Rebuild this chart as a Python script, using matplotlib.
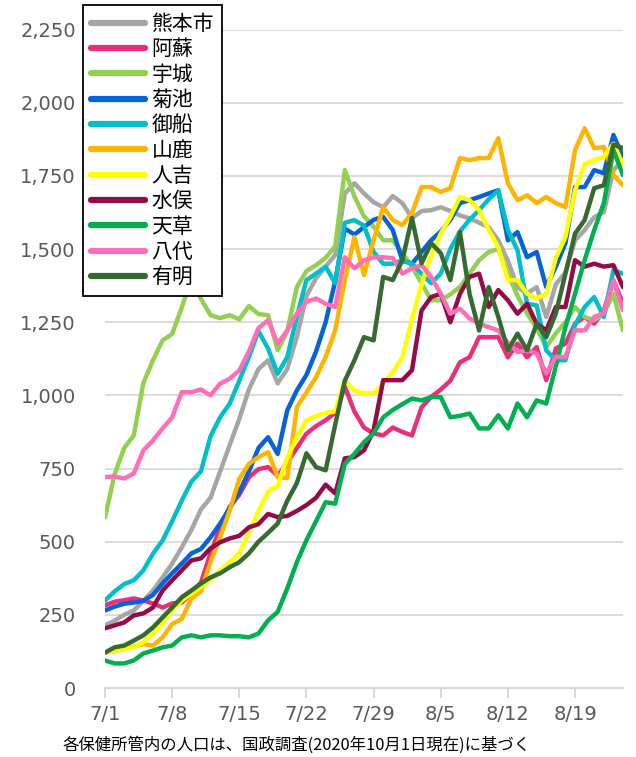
import numpy as np
import matplotlib
matplotlib.use('Agg')
import matplotlib.pyplot as plt
import matplotlib.ticker as ticker

plt.rcParams['font.family'] = ['DejaVu Sans', 'Noto Sans CJK JP']

days = np.arange(55)
tick_pos = [0, 7, 14, 21, 28, 35, 42, 49]
tick_labels = ['7/1', '7/8', '7/15', '7/22', '7/29', '8/5', '8/12', '8/19']

names = ['熊本市', '阿蘇', '宇城', '菊池', '御船', '山鹿', '人吉', '水俣', '天草', '八代', '有明']
colors = ['#A6A6A6', '#E8307A', '#92D050', '#0563D6', '#00BFC8', '#FFB400',
          '#FFFF00', '#940C47', '#00B050', '#FF6EB9', '#356A30']

kumamoto = [214, 230, 250, 265, 298, 333, 378, 425, 480, 540,
            610, 650, 740, 830, 920, 1020, 1090, 1120, 1041, 1090,
            1200, 1340, 1400, 1440, 1480, 1690, 1725, 1690, 1660, 1643,
            1681, 1657, 1606, 1630, 1633, 1643, 1630, 1615, 1605, 1590,
            1575, 1530, 1460, 1370, 1348, 1370, 1268, 1380, 1420, 1530,
            1565, 1609, 1626, 1770, 1804]
aso = [282, 295, 300, 306, 299, 289, 275, 289, 292, 323,
       360, 460, 549, 620, 660, 720, 748, 755, 725, 770,
       820, 869, 895, 915, 940, 1030, 945, 890, 870, 863,
       890, 875, 863, 959, 995, 1020, 1050, 1113, 1130, 1199,
       1199, 1199, 1130, 1177, 1130, 1165, 1052, 1160, 1177, 1245,
       1268, 1245, 1290, 1393, 1314]
uki = [583, 730, 820, 863, 1042, 1120, 1188, 1210, 1300, 1400,
       1330, 1274, 1264, 1274, 1260, 1305, 1278, 1274, 1154, 1220,
       1370, 1425, 1445, 1470, 1510, 1770, 1680, 1612, 1576, 1530,
       1530, 1486, 1440, 1383, 1325, 1325, 1345, 1370, 1416, 1462,
       1490, 1500, 1416, 1340, 1280, 1230, 1165, 1212, 1250, 1302,
       1268, 1257, 1280, 1347, 1222]
kikuchi = [265, 278, 288, 292, 298, 318, 357, 392, 425, 460,
           475, 515, 562, 614, 670, 740, 820, 857, 800, 949,
           1017, 1070, 1150, 1250, 1390, 1570, 1550, 1575, 1600, 1610,
           1565, 1460, 1450, 1490, 1530, 1560, 1600, 1657, 1667, 1678,
           1690, 1701, 1530, 1558, 1472, 1490, 1370, 1440, 1520, 1712,
           1712, 1770, 1759, 1890, 1815]
mifune = [299, 330, 355, 368, 402, 459, 504, 570, 640, 705,
          740, 860, 925, 972, 1050, 1131, 1220, 1160, 1074, 1131,
          1268, 1394, 1416, 1440, 1383, 1590, 1599, 1580, 1490, 1450,
          1450, 1462, 1450, 1416, 1383, 1416, 1500, 1560, 1600, 1633,
          1670, 1700, 1565, 1496, 1313, 1308, 1154, 1120, 1120, 1240,
          1302, 1336, 1268, 1428, 1416]
yamaga = [121, 126, 135, 142, 150, 145, 173, 219, 236, 305,
          330, 430, 515, 607, 715, 766, 789, 806, 720, 717,
          960, 1010, 1062, 1131, 1222, 1394, 1541, 1411, 1530, 1643,
          1599, 1582, 1623, 1712, 1712, 1695, 1708, 1811, 1804, 1811,
          1811, 1879, 1725, 1667, 1684, 1657, 1678, 1657, 1643, 1838,
          1913, 1845, 1849, 1753, 1718]
hitoyoshi = [121, 127, 133, 140, 156, 186, 221, 265, 299, 323,
             345, 370, 402, 430, 460, 530, 605, 672, 690, 789,
             857, 915, 930, 940, 945, 1052, 1015, 1008, 1006, 1040,
             1080, 1130, 1260, 1380, 1480, 1553, 1610, 1678, 1667, 1633,
             1565, 1507, 1394, 1394, 1348, 1331, 1347, 1470, 1541, 1700,
             1790, 1804, 1815, 1860, 1790]
minamata = [204, 214, 224, 248, 255, 275, 333, 368, 402, 436,
            443, 477, 498, 511, 520, 549, 560, 595, 584, 588,
            605, 625, 650, 695, 665, 785, 789, 812, 880, 1052,
            1052, 1052, 1086, 1290, 1336, 1347, 1250, 1347, 1405, 1416,
            1302, 1360, 1325, 1279, 1313, 1245, 1222, 1302, 1302, 1462,
            1440, 1450, 1440, 1445, 1370]
amakusa = [94, 84, 84, 94, 118, 128, 139, 145, 173, 180,
           173, 180, 180, 177, 177, 173, 186, 231, 260, 340,
           430, 505, 570, 635, 630, 766, 800, 840, 870, 925,
           950, 970, 989, 983, 994, 994, 925, 930, 938, 887,
           887, 932, 887, 972, 925, 983, 972, 1100, 1233, 1347,
           1462, 1565, 1657, 1838, 1753]
yatsushiro = [721, 723, 716, 733, 812, 846, 887, 925, 1011, 1011,
              1020, 1000, 1040, 1057, 1085, 1150, 1230, 1257, 1177, 1222,
              1280, 1320, 1331, 1313, 1302, 1472, 1434, 1462, 1472, 1472,
              1469, 1416, 1434, 1445, 1405, 1347, 1279, 1296, 1263, 1245,
              1233, 1222, 1180, 1148, 1154, 1143, 1075, 1131, 1131, 1222,
              1222, 1268, 1280, 1393, 1291]
ariake = [121, 139, 145, 162, 180, 207, 241, 275, 310, 333,
          357, 378, 392, 413, 430, 460, 500, 530, 562, 640,
          700, 802, 755, 744, 900, 1050, 1120, 1199, 1188, 1405,
          1394, 1462, 1606, 1452, 1520, 1486, 1394, 1558, 1347, 1222,
          1370, 1268, 1154, 1211, 1154, 1245, 1199, 1280, 1416, 1553,
          1599, 1708, 1718, 1857, 1845]

series = [kumamoto, aso, uki, kikuchi, mifune, yamaga, hitoyoshi,
          minamata, amakusa, yatsushiro, ariake]

fig = plt.figure(figsize=(6.36, 7.57), dpi=100)
ax = fig.add_axes([105/636, 1-688/757, (623-105)/636, (688-29.6)/757])

for name, vals, col in zip(names, series, colors):
    ax.plot(days, vals, color=col, linewidth=3.2, label=name,
            solid_joinstyle='round', solid_capstyle='round')

ax.set_xlim(0, 54)
ax.set_ylim(0, 2250)
ax.set_yticks(np.arange(0, 2251, 250))
ax.yaxis.set_major_formatter(ticker.FuncFormatter(lambda v, p: '{:,.0f}'.format(v)))
ax.set_xticks(tick_pos)
ax.set_xticklabels(tick_labels)

ax.yaxis.grid(True, color='#D9D9D9', linewidth=1.3)
ax.set_axisbelow(True)
for s in ['left', 'top', 'right']:
    ax.spines[s].set_visible(False)
ax.spines['bottom'].set_color('#D9D9D9')
ax.spines['bottom'].set_linewidth(1.5)

ax.tick_params(axis='x', length=7, width=1.5, color='#D9D9D9',
               labelsize=14, labelcolor='#595959', pad=5)
ax.tick_params(axis='y', length=0, labelsize=14, labelcolor='#595959', pad=21)

leg = ax.legend(loc='upper left', bbox_to_anchor=(83/636, 1-5/757),
                bbox_transform=fig.transFigure, borderaxespad=0,
                prop={'family': ['Noto Sans CJK JP', 'DejaVu Sans'], 'size': 15},
                fancybox=False, framealpha=1, edgecolor='black',
                handlelength=2.6, handletextpad=0.3, labelspacing=0.16,
                borderpad=0.38)
leg.get_frame().set_linewidth(1.3)
for h in leg.get_lines():
    h.set_linewidth(4.5)

fig.text(297/636, 1-745/757, '各保健所管内の人口は、国政調査(2020年10月1日現在)に基づく',
         ha='center', va='center', fontsize=11.8,
         family=['Noto Sans CJK JP', 'DejaVu Sans'])

fig.savefig('out.png', dpi=100)
